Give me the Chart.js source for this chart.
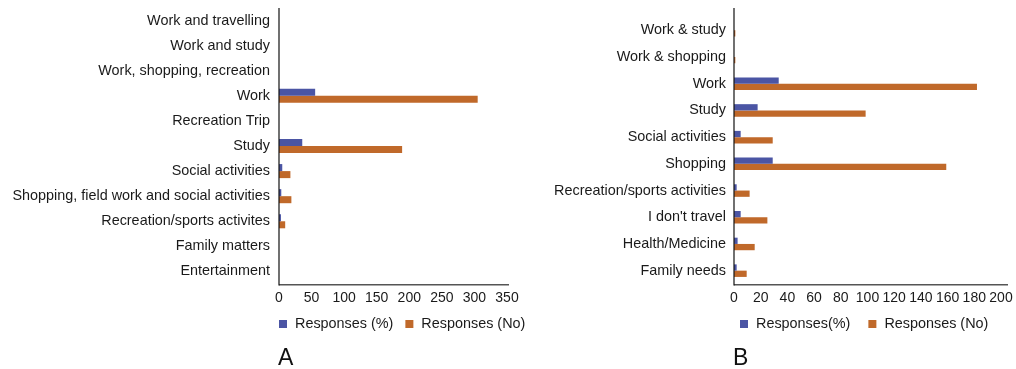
<!DOCTYPE html>
<html>
<head>
<meta charset="utf-8">
<script src="https://cdn.jsdelivr.net/npm/chart.js@4/dist/chart.umd.min.js"></script>
<style>
  html, body { margin: 0; padding: 0; background: #fff; }
  body { width: 1016px; height: 369px; position: relative; overflow: hidden; }
  .panel { position: absolute; top: 0; height: 369px; }
  #wrapA { left: 0; width: 530px; }
  #wrapB { left: 545px; width: 471px; }
</style>
</head>
<body>
<div class="panel" id="wrapA"><canvas id="chartA" width="530" height="369"></canvas></div>
<div class="panel" id="wrapB"><canvas id="chartB" width="471" height="369"></canvas></div>
<script>
// Panel A: trip purposes
const purposesA = [
  'Work and travelling', 'Work and study', 'Work, shopping, recreation', 'Work',
  'Recreation Trip', 'Study', 'Social activities',
  'Shopping, field work and social activities', 'Recreation/sports activites',
  'Family matters', 'Entertainment'
];
const percentA = [0, 0, 0, 55.5, 0, 35.7, 5, 3.5, 3, 0, 0];
const countA   = [0, 0, 0, 305, 0, 189, 17.5, 19, 9.5, 0, 0];
const ticksA   = [0, 50, 100, 150, 200, 250, 300, 350];
const seriesA  = ['Responses (%)', 'Responses (No)'];

// Panel B: trip purposes
const purposesB = [
  'Work & study', 'Work & shopping', 'Work', 'Study', 'Social activities',
  'Shopping', 'Recreation/sports activities', "I don't travel",
  'Health/Medicine', 'Family needs'
];
const percentB = [0, 0, 33.5, 17.7, 5, 29, 2, 5, 2.7, 2];
const countB   = [1, 1, 182, 98.6, 29, 159, 11.7, 25, 15.5, 9.5];
const ticksB   = [0, 20, 40, 60, 80, 100, 120, 140, 160, 180, 200];
const seriesB  = ['Responses(%)', 'Responses (No)'];

const BLUE = '#4b55a4';
const ORANGE = '#c0692a';
const TEXT = '#1a1a1a';
const FONT = '"Liberation Sans", Arial, Helvetica, sans-serif';

// Axis lines, legend row and panel letter
const decorations = {
  id: 'decorations',
  afterDraw(chart, args, opts) {
    const { ctx, chartArea: a } = chart;
    ctx.save();
    ctx.strokeStyle = '#555';
    ctx.lineWidth = 1.6;
    ctx.beginPath();
    ctx.moveTo(a.left, a.bottom + 0.8);
    ctx.lineTo(a.right + opts.xOverhang, a.bottom + 0.8);
    ctx.stroke();

    ctx.strokeStyle = '#111';
    ctx.lineWidth = 1.2;
    ctx.beginPath();
    ctx.moveTo(a.left, a.top - opts.yOverhang);
    ctx.lineTo(a.left, a.bottom + 1.6);
    ctx.stroke();

    ctx.font = '14.4px ' + FONT;
    ctx.textBaseline = 'middle';
    ctx.textAlign = 'left';
    let x = a.left + opts.legendIndent;
    chart.data.datasets.forEach(ds => {
      ctx.fillStyle = ds.backgroundColor;
      ctx.fillRect(x, opts.legendY - 4, 8, 8);
      x += 16;
      ctx.fillStyle = TEXT;
      ctx.fillText(ds.label, x, opts.legendY);
      x += ctx.measureText(ds.label).width + opts.legendGap;
    });

    ctx.font = '23px ' + FONT;
    ctx.textBaseline = 'alphabetic';
    ctx.fillStyle = '#111';
    ctx.fillText(opts.letter, a.left + opts.letterIndent, 365);
    ctx.restore();
  }
};

function noScalePadding(s) {
  s.paddingTop = 0;
  s.paddingBottom = 0;
  s.paddingLeft = 0;
  s.paddingRight = 0;
}

function makeChart(id, cats, pct, cnt, ticks, names, cfg) {
  return new Chart(document.getElementById(id), {
    type: 'bar',
    data: {
      labels: cats,
      datasets: [
        { label: names[0], data: pct, backgroundColor: BLUE },
        { label: names[1], data: cnt, backgroundColor: ORANGE }
      ]
    },
    options: {
      indexAxis: 'y',
      responsive: false,
      animation: false,
      events: [],
      datasets: {
        bar: { barPercentage: 1, categoryPercentage: cfg.catPct, borderWidth: 0 }
      },
      layout: { padding: { top: cfg.padTop, right: cfg.padRight, bottom: 61, left: 0 } },
      plugins: {
        legend: { display: false },
        tooltip: { enabled: false },
        decorations: cfg.deco
      },
      scales: {
        x: {
          min: ticks[0],
          max: ticks[ticks.length - 1],
          grid: { display: false, drawTicks: false },
          border: { display: false },
          afterFit: s => { s.height = 24; noScalePadding(s); },
          afterBuildTicks: s => { s.ticks = ticks.map(v => ({ value: v })); },
          ticks: {
            autoSkip: false,
            maxRotation: 0,
            padding: 6,
            color: TEXT,
            font: { family: FONT, size: 14 }
          }
        },
        y: {
          grid: { display: false, drawTicks: false },
          border: { display: false },
          afterFit: s => { s.width = cfg.yWidth; noScalePadding(s); },
          ticks: {
            autoSkip: false,
            padding: cfg.labelPad,
            color: TEXT,
            font: { family: FONT, size: 14.4 }
          }
        }
      }
    },
    plugins: [decorations]
  });
}

makeChart('chartA', purposesA, percentA, countA, ticksA, seriesA, {
  catPct: 0.56, padTop: 8, padRight: 23, yWidth: 279, labelPad: 9,
  deco: { xOverhang: 2, yOverhang: 0, legendIndent: 0, legendGap: 12, legendY: 324, letter: 'A', letterIndent: -1 }
});

makeChart('chartB', purposesB, percentB, countB, ticksB, seriesB, {
  catPct: 0.47, padTop: 17, padRight: 15, yWidth: 189, labelPad: 8,
  deco: { xOverhang: 7, yOverhang: 9, legendIndent: 6, legendGap: 18, legendY: 324, letter: 'B', letterIndent: -1 }
});
</script>
</body>
</html>
